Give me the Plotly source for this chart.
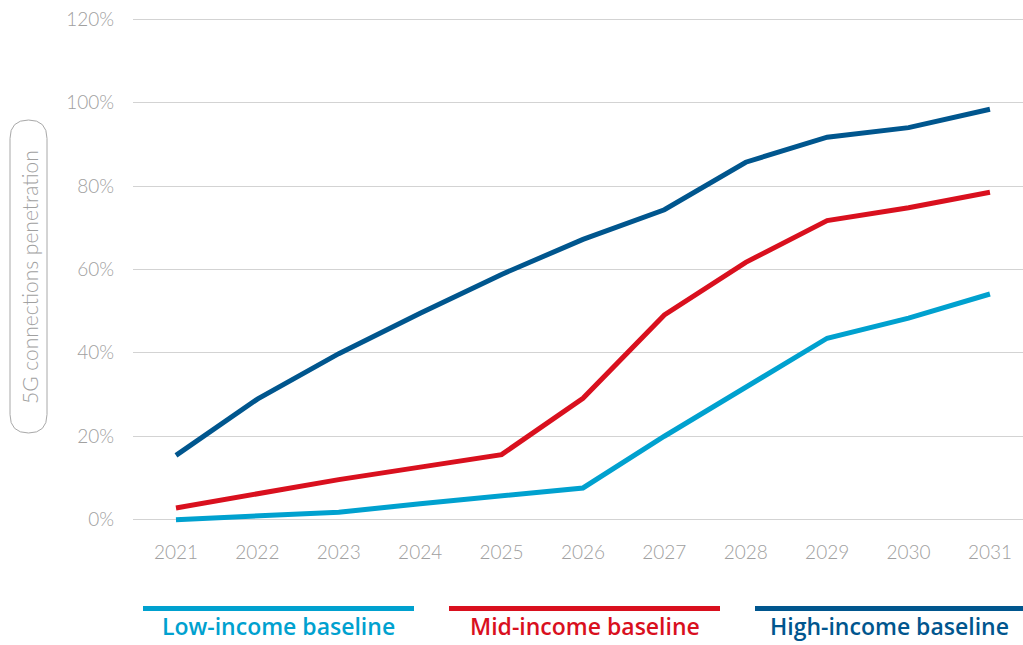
import plotly.graph_objects as go

years = [2021, 2022, 2023, 2024, 2025, 2026, 2027, 2028, 2029, 2030, 2031]
low_income = [0.0, 1.0, 1.8, 3.8, 5.6, 7.6, 20.0, 31.9, 43.5, 48.3, 54.1]
mid_income = [2.8, 6.2, 9.6, 12.6, 15.6, 29.1, 49.1, 61.7, 71.7, 74.8, 78.5]
high_income = [15.4, 28.9, 39.8, 49.5, 58.8, 67.2, 74.3, 85.7, 91.7, 94.0, 98.4]

series_names = ["Low-income baseline", "Mid-income baseline", "High-income baseline"]
series_colors = ["#00A1CF", "#D9101E", "#00568E"]
series_values = [low_income, mid_income, high_income]

y_ticks = [0, 20, 40, 60, 80, 100, 120]
y_tick_text = ["0%", "20%", "40%", "60%", "80%", "100%", "120%"]

W, H = 1023, 645
L, R, T, B = 133, 0, 15, 117
PW, PH = W - L - R, H - T - B


def px(x):
    return (x - L) / PW


def py(y):
    return (H - B - y) / PH


fig = go.Figure()
for name, color, vals in zip(series_names, series_colors, series_values):
    fig.add_trace(go.Scatter(
        x=years, y=vals, mode="lines", name=name,
        line=dict(color=color, width=5),
        showlegend=False,
    ))

tick_font = dict(family="Lato", size=19, color="#A0A0A0", weight=300)

fig.update_layout(
    width=W, height=H,
    margin=dict(l=L, r=R, t=T, b=B),
    paper_bgcolor="white", plot_bgcolor="white",
    xaxis=dict(
        range=[2020.472, 2031.406],
        tickmode="array", tickvals=years, ticktext=[str(y) for y in years],
        showgrid=False, zeroline=False, showline=False,
        tickfont=tick_font, ticks="", ticklabelstandoff=11,
    ),
    yaxis=dict(
        range=[-2, 121],
        tickmode="array", tickvals=y_ticks, ticktext=y_tick_text,
        showgrid=True, gridcolor="#D3D3D3", gridwidth=1,
        zeroline=False, showline=False,
        tickfont=tick_font, ticks="", ticklabelstandoff=18,
    ),
)

# rounded frame around the vertical axis title
x0, x1, y0, y1, r = 10, 47, 120, 433, 18.5
path = (
    f"M {px(x0)},{py(y0 + r)} "
    f"Q {px(x0)},{py(y0)} {px(x0 + r)},{py(y0)} "
    f"Q {px(x1)},{py(y0)} {px(x1)},{py(y0 + r)} "
    f"L {px(x1)},{py(y1 - r)} "
    f"Q {px(x1)},{py(y1)} {px(x1 - r)},{py(y1)} "
    f"Q {px(x0)},{py(y1)} {px(x0)},{py(y1 - r)} Z"
)
fig.add_shape(type="path", path=path, xref="paper", yref="paper",
              line=dict(color="#A8A8A8", width=1), fillcolor="rgba(0,0,0,0)")
fig.add_annotation(
    text="5G connections penetration", textangle=-90,
    x=px(29), y=py(277), xref="paper", yref="paper",
    xanchor="center", yanchor="middle", showarrow=False,
    font=dict(family="Lato", size=21, color="#A0A0A0", weight=300),
)

# legend strips with labels underneath
legend_spans = [(143, 414), (449, 720), (755, 1023)]
for name, color, (a, b) in zip(series_names, series_colors, legend_spans):
    fig.add_shape(type="line", xref="paper", yref="paper",
                  x0=px(a), x1=px(b), y0=py(608.5), y1=py(608.5),
                  line=dict(color=color, width=5))
    fig.add_annotation(
        text=name, x=px((a + b) / 2), y=py(644), xref="paper", yref="paper",
        xanchor="center", yanchor="bottom", showarrow=False,
        font=dict(family="Open Sans", size=23, color=color, weight=600),
    )

fig.write_html("out.html")
